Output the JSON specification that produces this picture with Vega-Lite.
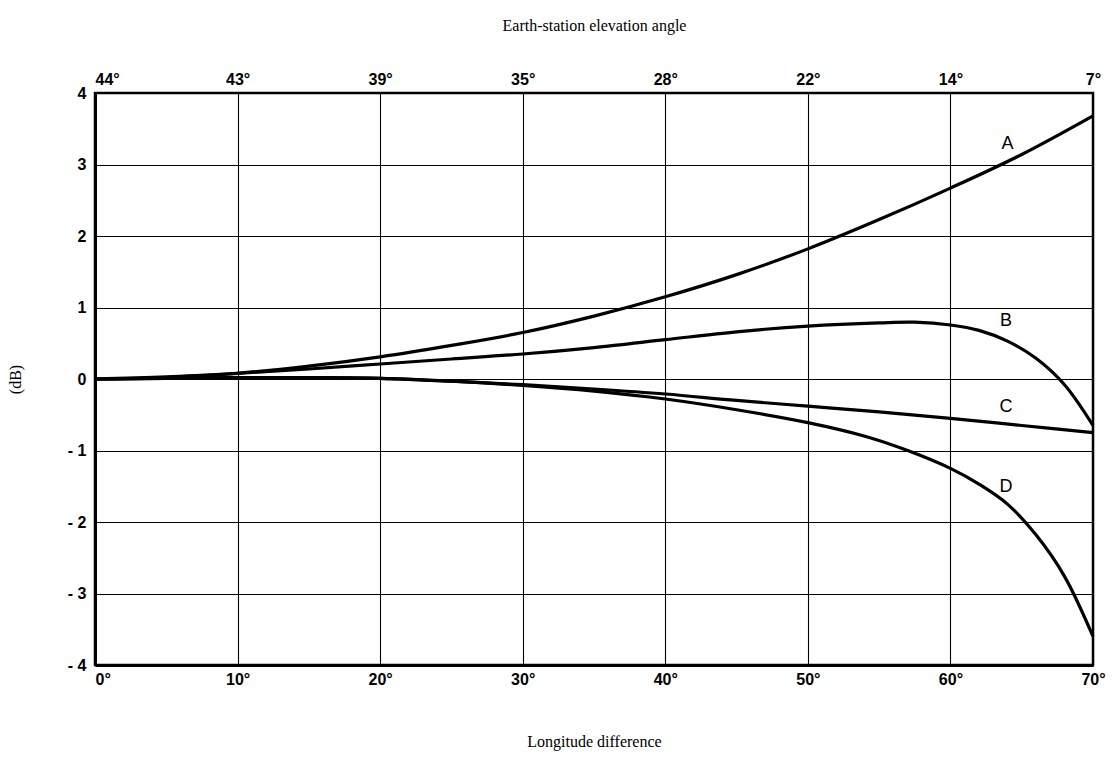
{
  "$schema": "https://vega.github.io/schema/vega-lite/v6.json",
  "width": 998,
  "height": 572,
  "autosize": "none",
  "padding": {"left": 95, "top": 93, "right": 26, "bottom": 98},
  "background": "white",
  "config": {
    "view": {"stroke": "black", "strokeWidth": 2.5},
    "axis": {"gridColor": "black", "gridOpacity": 1, "gridWidth": 1.1, "domainColor": "black", "ticks": false,
      "labelFont": "Liberation Sans", "labelFontWeight": "bold", "labelFontSize": 16, "labelColor": "black",
      "titleFont": "Liberation Serif", "titleFontWeight": "normal", "titleFontSize": 16, "titleColor": "black"}
  },
  "datasets": {
    "curves": [
      {"lon": 0, "db": 0, "curve": "A"}, {"lon": 5, "db": 0.02, "curve": "A"}, {"lon": 10, "db": 0.08, "curve": "A"},
      {"lon": 15, "db": 0.18, "curve": "A"}, {"lon": 20, "db": 0.31, "curve": "A"}, {"lon": 25, "db": 0.47, "curve": "A"},
      {"lon": 30, "db": 0.65, "curve": "A"}, {"lon": 35, "db": 0.88, "curve": "A"}, {"lon": 40, "db": 1.15, "curve": "A"},
      {"lon": 45, "db": 1.46, "curve": "A"}, {"lon": 50, "db": 1.82, "curve": "A"}, {"lon": 55, "db": 2.23, "curve": "A"},
      {"lon": 60, "db": 2.67, "curve": "A"}, {"lon": 65, "db": 3.14, "curve": "A"}, {"lon": 70, "db": 3.68, "curve": "A"},
      {"lon": 0, "db": 0, "curve": "B"}, {"lon": 5, "db": 0.03, "curve": "B"}, {"lon": 10, "db": 0.08, "curve": "B"},
      {"lon": 15, "db": 0.14, "curve": "B"}, {"lon": 20, "db": 0.21, "curve": "B"}, {"lon": 25, "db": 0.28, "curve": "B"},
      {"lon": 30, "db": 0.35, "curve": "B"}, {"lon": 35, "db": 0.44, "curve": "B"}, {"lon": 40, "db": 0.55, "curve": "B"},
      {"lon": 45, "db": 0.66, "curve": "B"}, {"lon": 50, "db": 0.74, "curve": "B"}, {"lon": 55, "db": 0.785, "curve": "B"},
      {"lon": 57.5, "db": 0.795, "curve": "B"}, {"lon": 60, "db": 0.755, "curve": "B"}, {"lon": 62, "db": 0.68, "curve": "B"},
      {"lon": 64, "db": 0.53, "curve": "B"}, {"lon": 66, "db": 0.29, "curve": "B"}, {"lon": 68, "db": -0.08, "curve": "B"},
      {"lon": 70, "db": -0.65, "curve": "B"},
      {"lon": 0, "db": 0, "curve": "C"}, {"lon": 5, "db": 0.01, "curve": "C"}, {"lon": 10, "db": 0.02, "curve": "C"},
      {"lon": 15, "db": 0.02, "curve": "C"}, {"lon": 20, "db": 0.01, "curve": "C"}, {"lon": 25, "db": -0.03, "curve": "C"},
      {"lon": 30, "db": -0.08, "curve": "C"}, {"lon": 35, "db": -0.14, "curve": "C"}, {"lon": 40, "db": -0.21, "curve": "C"},
      {"lon": 45, "db": -0.3, "curve": "C"}, {"lon": 50, "db": -0.38, "curve": "C"}, {"lon": 55, "db": -0.46, "curve": "C"},
      {"lon": 60, "db": -0.55, "curve": "C"}, {"lon": 65, "db": -0.65, "curve": "C"}, {"lon": 70, "db": -0.75, "curve": "C"},
      {"lon": 0, "db": 0, "curve": "D"}, {"lon": 5, "db": 0.01, "curve": "D"}, {"lon": 10, "db": 0.02, "curve": "D"},
      {"lon": 15, "db": 0.02, "curve": "D"}, {"lon": 20, "db": 0.01, "curve": "D"}, {"lon": 25, "db": -0.03, "curve": "D"},
      {"lon": 30, "db": -0.09, "curve": "D"}, {"lon": 35, "db": -0.17, "curve": "D"}, {"lon": 40, "db": -0.28, "curve": "D"},
      {"lon": 45, "db": -0.43, "curve": "D"}, {"lon": 50, "db": -0.61, "curve": "D"}, {"lon": 54, "db": -0.8, "curve": "D"},
      {"lon": 57, "db": -1.0, "curve": "D"}, {"lon": 60, "db": -1.25, "curve": "D"}, {"lon": 62, "db": -1.47, "curve": "D"},
      {"lon": 64, "db": -1.75, "curve": "D"}, {"lon": 66, "db": -2.18, "curve": "D"}, {"lon": 68, "db": -2.76, "curve": "D"},
      {"lon": 70, "db": -3.6, "curve": "D"}
    ],
    "labels": [
      {"lon": 64, "db": 3.29, "curve": "A"},
      {"lon": 63.9, "db": 0.81, "curve": "B"},
      {"lon": 63.9, "db": -0.39, "curve": "C"},
      {"lon": 63.9, "db": -1.51, "curve": "D"}
    ]
  },
  "layer": [
    {
      "data": {"name": "curves"},
      "mark": {"type": "line", "color": "black", "strokeWidth": 3.2, "interpolate": "catmull-rom"},
      "encoding": {
        "x": {"field": "lon", "type": "quantitative", "scale": {"domain": [0, 70], "nice": false},
          "axis": {"orient": "bottom", "values": [0, 10, 20, 30, 40, 50, 60, 70], "labelExpr": "datum.value + '°'",
            "title": "Longitude difference", "titlePadding": 46, "labelPadding": 6, "domainWidth": 3,
            "grid": true, "labelAlign": {"condition": {"test": "datum.value == 0", "value": "left"}, "value": "center"}}},
        "y": {"field": "db", "type": "quantitative", "scale": {"domain": [-4, 4], "nice": false},
          "axis": {"values": [-4, -3, -2, -1, 0, 1, 2, 3, 4], "labelExpr": "datum.value < 0 ? '- ' + abs(datum.value) : '' + datum.value",
            "title": "(dB)", "titlePadding": 44, "labelPadding": 9, "domainWidth": 3, "grid": true}},
        "detail": {"field": "curve"}
      }
    },
    {
      "data": {"name": "labels"},
      "mark": {"type": "text", "font": "Liberation Sans", "fontSize": 18, "color": "black", "align": "center", "baseline": "middle"},
      "encoding": {
        "x": {"field": "lon", "type": "quantitative", "scale": {"domain": [0, 70], "nice": false},
          "axis": {"orient": "top", "values": [0, 10, 20, 30, 40, 50, 60, 70],
            "labelExpr": "{'0':'44°','10':'43°','20':'39°','30':'35°','40':'28°','50':'22°','60':'14°','70':'7°'}[datum.value]",
            "title": "Earth-station elevation angle", "titlePadding": 38, "labelPadding": 6, "grid": false, "domain": false,
            "labelAlign": {"condition": {"test": "datum.value == 0", "value": "left"}, "value": "center"}}},
        "y": {"field": "db", "type": "quantitative"},
        "text": {"field": "curve"}
      }
    }
  ],
  "resolve": {"axis": {"x": "independent"}}
}
